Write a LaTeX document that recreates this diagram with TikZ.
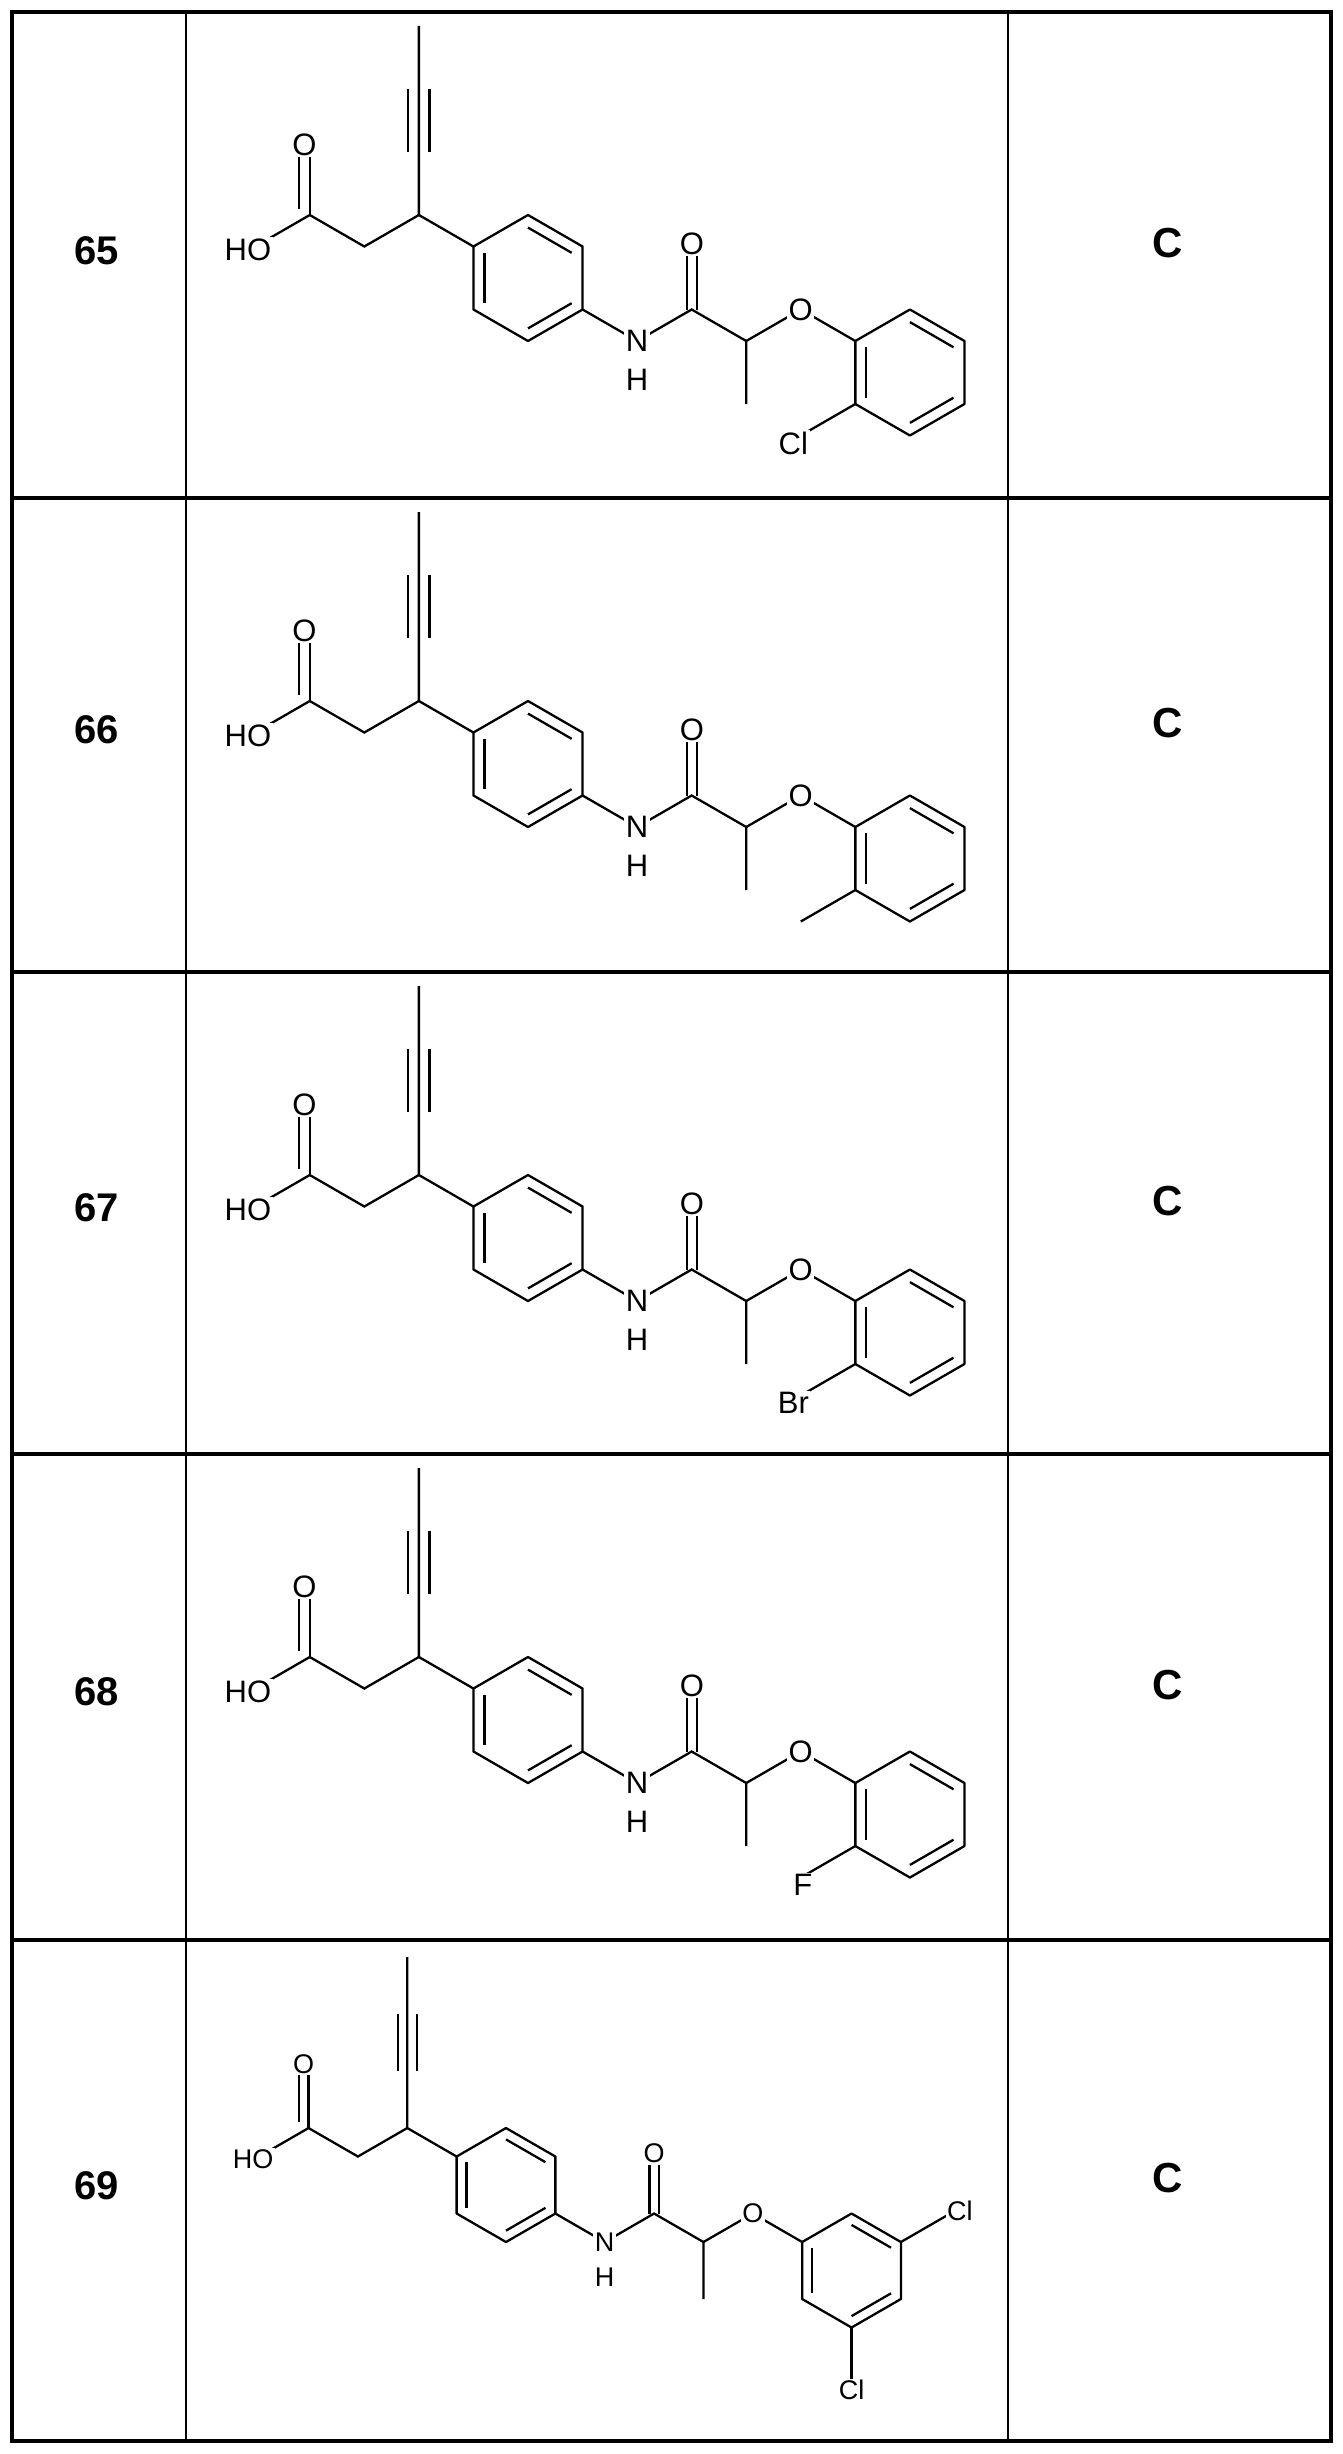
\documentclass[tikz,border=0pt]{standalone}
\usepackage{fontspec}
\setmainfont{Liberation Sans}
\usetikzlibrary{calc}
\tikzset{bond/.style={line width=2.3pt},
 lbl/.style={fill=white,inner sep=1.5pt,font=\fontsize{\lblsize}{\lblsize}\selectfont},
 rule/.style={line width=4pt},
 thin/.style={line width=2.2pt}}
\def\lblsize{28}
\newcommand\mol[5]{%
\begin{scope}[shift={(#1pt,-#2pt)},x=#3pt,y=#3pt]
 \def\lblsize{#5}
 \coordinate (rc) at (0,0);
 \coordinate (a1) at (0,1); \coordinate (a2) at (0.866,0.5); \coordinate (a3) at (0.866,-0.5);
 \coordinate (a4) at (0,-1); \coordinate (a5) at (-0.866,-0.5); \coordinate (a6) at (-0.866,0.5);
 \draw[bond,line join=round] (a1)--(a2)--(a3)--(a4)--(a5)--(a6)--cycle;
 \draw[bond] ($(a1)!0.2!(rc)$) -- ($(a2)!0.2!(rc)$);
 \draw[bond] ($(a3)!0.2!(rc)$) -- ($(a4)!0.2!(rc)$);
 \draw[bond] ($(a5)!0.2!(rc)$) -- ($(a6)!0.2!(rc)$);
 % alkyne side
 \draw[bond] (a6) -- (-1.732,1) -- (-1.732,4);
 \draw[bond] (-1.9,2) -- (-1.9,3) (-1.564,2) -- (-1.564,3);
 % acid
 \draw[bond] (-1.732,1) -- (-2.598,0.5) -- (-3.464,1);
 \draw[bond] (-3.464,1) -- (-3.464,2);
 \draw[bond] (-3.63,1.1) -- (-3.63,2);
 \draw[bond] (-3.464,1) -- (-4.33,0.5);
 \node[lbl] at (-3.55,2.12) {O};
 \node[lbl,anchor=east] at (-4.05,0.45) {HO};
 % amide
 \draw[bond] (a3) -- (1.732,-1) -- (2.598,-0.5) -- (3.464,-1) -- (3.464,-2);
 \draw[bond] (2.52,-0.5) -- (2.52,0.5) (2.68,-0.5) -- (2.68,0.5);
 \draw[bond] (3.464,-1) -- (4.33,-0.5) -- (5.196,-1);
 \node[lbl] at (1.732,-1) {N};
 \node[lbl,fill=none] at (1.732,-1.62) {H};
 \node[lbl] at (2.6,0.55) {O};
 \node[lbl] at (4.33,-0.5) {O};
 % ring 2
 \begin{scope}[shift={(6.062,-1.5)}]
 \coordinate (rc) at (0,0);
 \coordinate (b1) at (0,1); \coordinate (b2) at (0.866,0.5); \coordinate (b3) at (0.866,-0.5);
 \coordinate (b4) at (0,-1); \coordinate (b5) at (-0.866,-0.5); \coordinate (b6) at (-0.866,0.5);
 \draw[bond,line join=round] (b1)--(b2)--(b3)--(b4)--(b5)--(b6)--cycle;
 \draw[bond] ($(b1)!0.2!(rc)$) -- ($(b2)!0.2!(rc)$);
 \draw[bond] ($(b3)!0.2!(rc)$) -- ($(b4)!0.2!(rc)$);
 \draw[bond] ($(b5)!0.2!(rc)$) -- ($(b6)!0.2!(rc)$);
 \ifcase#4
   \draw[bond] (b5) -- (-1.732,-1); \node[lbl] at (-1.85,-1.12) {Cl};
 \or
   \draw[bond] (b5) -- (-1.732,-1);
 \or
   \draw[bond] (b5) -- (-1.732,-1); \node[lbl] at (-1.85,-1.12) {Br};
 \or
   \draw[bond] (b5) -- (-1.732,-1); \node[lbl] at (-1.7,-1.12) {F};
 \or
   \draw[bond] (b2) -- (1.732,1); \node[lbl] at (1.9,1.05) {Cl};
   \draw[bond] (b4) -- (0,-2); \node[lbl] at (0,-2.1) {Cl};
 \fi
 \end{scope}
\end{scope}}
\begin{document}
\begin{tikzpicture}[x=1pt,y=1pt]
\useasboundingbox (0,0) rectangle (1343,-2454);
\fill[white] (0,0) rectangle (1343,-2454);
% table
\foreach \y in {12.5,498,972,1454,1940,2441} \draw[rule] (10,-\y) -- (1333,-\y);
\draw[rule] (12,-12.5) -- (12,-2441) (1331,-12.5) -- (1331,-2441);
\draw[thin] (186,-12.5) -- (186,-2441) (1008,-12.5) -- (1008,-2441);
% labels
\foreach \t/\b/\n in {12.5/498/65,498/972/66,972/1454/67,1454/1940/68,1940/2441/69}{
  \node[font=\fontsize{40}{40}\selectfont\bfseries] (n\n) at (97,{-(\t+\b)/2+5}) {\n};
  \node[font=\fontsize{42}{42}\selectfont\bfseries] (c\n) at (1168,{-(\t+\b)/2+12}) {C};
}
\mol{528}{278}{63}{0}{31}
\mol{528}{764}{63}{1}{31}
\mol{528}{1238}{63}{2}{31}
\mol{528}{1720}{63}{3}{31}
\mol{506}{2185}{57}{4}{27}
\end{tikzpicture}
\end{document}
